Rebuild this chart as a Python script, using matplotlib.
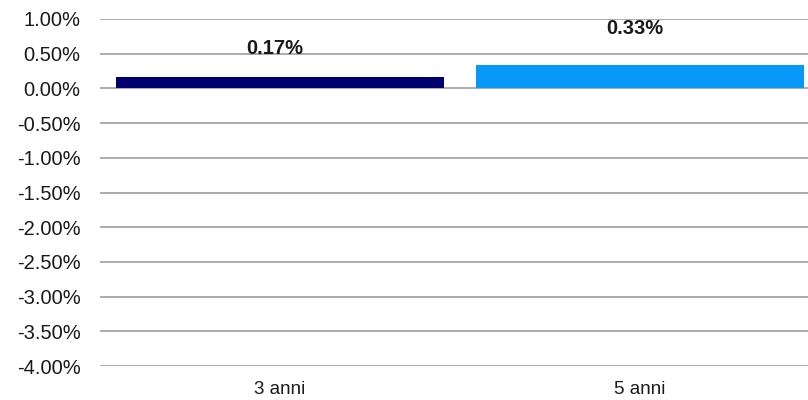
import matplotlib
matplotlib.use("Agg")
import matplotlib.pyplot as plt
from matplotlib.ticker import FuncFormatter

plt.rcParams['font.family'] = ['Liberation Sans', 'DejaVu Sans']

categories = ['3 anni', '5 anni']
values = [0.17, 0.33]
colors = ['#00006e', '#0898f8']
label_y = [0.575, 0.865]  # posizione delle etichette (in stile Excel)

fig = plt.figure(figsize=(8.08, 4.0), dpi=100)
ax = fig.add_axes([100 / 808, 34 / 400, 720 / 808, 347 / 400])

x = range(len(categories))
ax.bar(x, values, width=0.91, color=colors, zorder=3)

for i, v in enumerate(values):
    ax.text(i - 0.015, label_y[i], f'{v:.2f}%', ha='center', va='center',
            fontsize=14.5, fontweight='bold', color='#1a1a1a', zorder=4)

ax.set_xlim(-0.5, 1.5)
ax.set_ylim(-4.0, 1.0)
ax.set_yticks([i * 0.5 for i in range(-8, 3)])
ax.yaxis.set_major_formatter(FuncFormatter(lambda v, p: f'{v:.2f}%'))
ax.set_xticks(list(x))
ax.set_xticklabels(categories)

ax.grid(axis='y', color='#a6a6a6', linewidth=1.3, zorder=0)
for s in ax.spines.values():
    s.set_visible(False)
ax.tick_params(axis='both', length=0, colors='#1a1a1a')
ax.tick_params(axis='y', pad=14, labelsize=14.5)
ax.tick_params(axis='x', pad=11, labelsize=13.5)

fig.savefig('out.png', dpi=100)
